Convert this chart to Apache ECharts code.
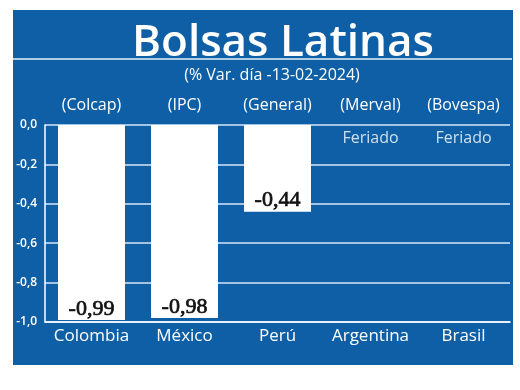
<!DOCTYPE html>
<html>
<head>
<meta charset="utf-8">
<script src="https://cdn.jsdelivr.net/npm/echarts@6/dist/echarts.min.js"></script>
<style>
	html, body { margin: 0; padding: 0; background: #fff; }
	#chart { width: 520px; height: 390px; }
</style>
</head>
<body>
<div id="chart"></div>
<script>
	// datos
	const paises = ['Colombia', 'México', 'Perú', 'Argentina', 'Brasil'];
	const indices = ['(Colcap)', '(IPC)', '(General)', '(Merval)', '(Bovespa)'];
	const variacion = [-0.99, -0.98, -0.44, null, null];
	const notas = ['', '', '', 'Feriado', 'Feriado'];
	const ejeY = { min: -1, max: 0, interval: 0.2 };

	const azul = '#0f5fa6';
	const fuente = '"Open Sans", sans-serif';

	const coma = (v, d) => v.toFixed(d).replace('.', ',').replace('-0,0', '0,0');

	const myChart = echarts.init(document.getElementById('chart'));
	const option = {
		backgroundColor: '#fff',
		graphic: [{
			type: 'rect',
			z: -10,
			shape: { x: 13, y: 10, width: 500, height: 355 },
			style: { fill: azul }
		}, {
			type: 'line',
			z: -9,
			shape: { x1: 13, y1: 59, x2: 512, y2: 59 },
			style: { stroke: '#e6f0fa', lineWidth: 1.5 }
		}],
		title: [{
			text: 'Bolsas Latinas',
			left: 278,
			top: 16,
			textAlign: 'center',
			textStyle: { color: '#fff', fontSize: 44, fontWeight: 600, fontFamily: fuente }
		}, {
			text: '(% Var. día -13-02-2024)',
			left: 267,
			top: 62,
			textAlign: 'center',
			textStyle: { color: '#fff', fontSize: 16, fontWeight: 'normal', fontFamily: fuente }
		}],
		grid: { left: 45, right: 10, top: 125, bottom: 68 },
		xAxis: [{
			type: 'category',
			data: paises,
			position: 'bottom',
			axisLine: { onZero: false, lineStyle: { color: '#fff', width: 1.5 } },
			axisTick: { show: false },
			axisLabel: { color: '#fff', fontSize: 17, fontFamily: fuente, margin: 6, interval: 0, hideOverlap: false }
		}, {
			type: 'category',
			data: indices,
			position: 'top',
			axisLine: { show: false },
			axisTick: { show: false },
			axisLabel: { color: '#fff', fontSize: 16, fontFamily: fuente, margin: 12, interval: 0, hideOverlap: false }
		}],
		yAxis: {
			type: 'value',
			min: ejeY.min,
			max: ejeY.max,
			interval: ejeY.interval,
			axisLine: { show: true, lineStyle: { color: '#fff', width: 1.5 } },
			axisTick: { show: false },
			axisLabel: {
				color: '#fff', fontSize: 12, fontWeight: 600, fontFamily: fuente, margin: 8,
				formatter: v => coma(v, 1)
			},
			splitLine: { lineStyle: { color: '#d6e7f7', width: 1.5 } }
		},
		series: [{
			type: 'bar',
			data: variacion,
			barWidth: '72%',
			itemStyle: { color: '#fff' },
			label: {
				show: true,
				position: 'insideBottom',
				distance: 0,
				color: '#111',
				fontSize: 22,
				fontFamily: '"Liberation Serif", serif',
				textBorderColor: '#111',
				textBorderWidth: 0.7,
				formatter: p => coma(p.value, 2)
			}
		}, {
			type: 'scatter',
			data: notas.map(n => n ? 0 : null),
			symbolSize: 0,
			clip: false,
			label: {
				show: true,
				position: 'bottom',
				distance: 5,
				color: '#fff',
				fontSize: 16,
				fontFamily: fuente,
				formatter: p => notas[p.dataIndex]
			}
		}]
	};
	myChart.setOption(option);
</script>
</body>
</html>
